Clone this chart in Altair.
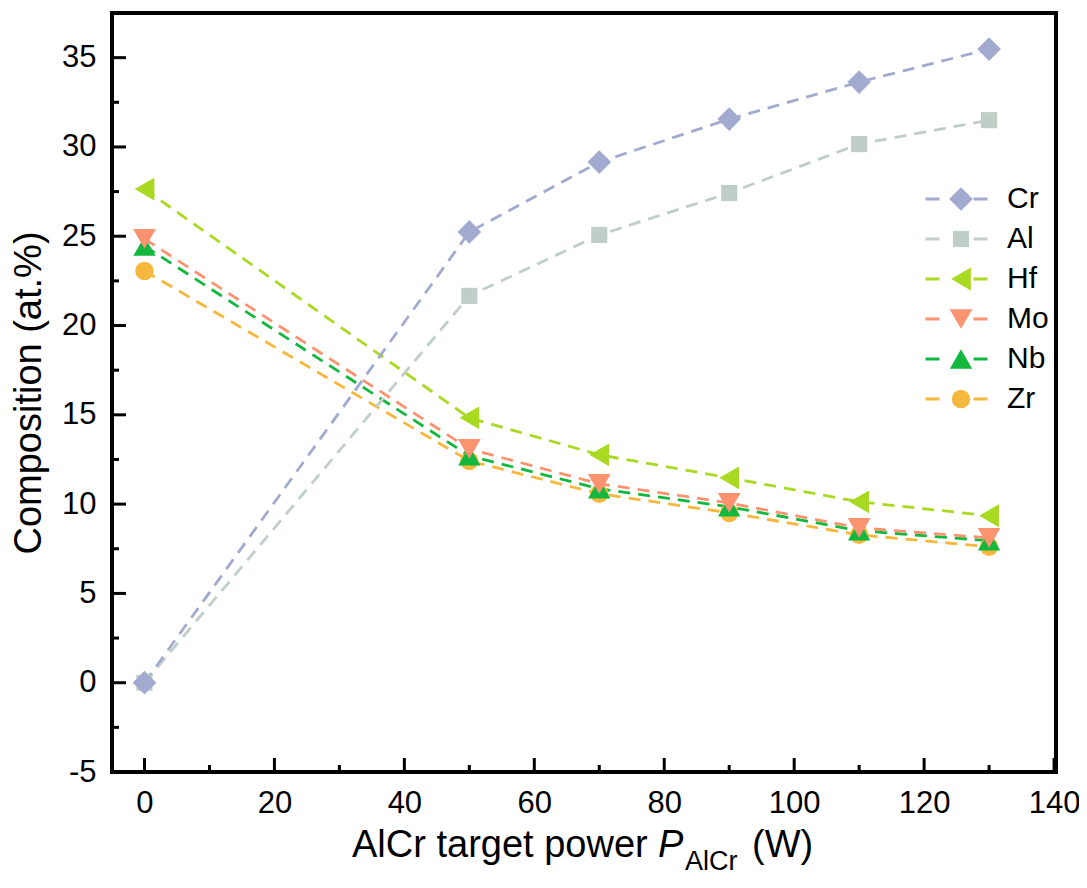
import altair as alt
import pandas as pd

power = [0, 50, 70, 90, 110, 130]
elements = ["Cr", "Al", "Hf", "Mo", "Nb", "Zr"]
cr = [0.0, 25.24, 29.15, 31.56, 33.63, 35.48]
al = [0.0, 21.66, 25.07, 27.42, 30.16, 31.50]
hf = [27.64, 14.83, 12.76, 11.47, 10.13, 9.35]
mo = [24.85, 13.09, 11.14, 10.07, 8.67, 8.11]
nb = [24.45, 12.70, 10.86, 9.85, 8.51, 7.95]
zr = [23.06, 12.42, 10.58, 9.51, 8.28, 7.61]

colors = ["#a2aacf", "#bfcfc7", "#a9d921", "#fb9270", "#12b83e", "#f6b83c"]
shapes = ["diamond", "square", "triangle-left", "triangle-down", "triangle-up", "circle"]
sizes = [560, 260, 520, 520, 500, 340]

x_major = [0, 20, 40, 60, 80, 100, 120, 140]
x_minor = [10, 30, 50, 70, 90, 110, 130]
y_major = [-5, 0, 5, 10, 15, 20, 25, 30, 35]
y_minor = [-2.5, 2.5, 7.5, 12.5, 17.5, 22.5, 27.5, 32.5]

series = {"Cr": cr, "Al": al, "Hf": hf, "Mo": mo, "Nb": nb, "Zr": zr}
markers_key = [e.lower() for e in elements]  # separate key so marker legend stays apart
rows = []
for el in reversed(elements):  # draw order: Zr bottom ... Cr top
    for p, v in zip(power, series[el]):
        rows.append({"x": p, "y": v, "el": el, "mk": el.lower()})
df = pd.DataFrame(rows)

FONT = "Liberation Sans"
W, H = 944, 759

xscale = alt.Scale(domain=[-5, 140.3], nice=False, zero=False)
yscale = alt.Scale(domain=[-5, 37.5], nice=False, zero=False)

x_axis = alt.Axis(values=x_major, domain=False, ticks=False, grid=False,
                  labelFontSize=31, labelFont=FONT, labelColor="black",
                  labelPadding=16, title=None, labelFlush=False,
                  labelExpr="'' + datum.value")
y_axis = alt.Axis(values=y_major, domain=False, ticks=False, grid=False,
                  labelFontSize=31, labelFont=FONT, labelColor="black",
                  labelPadding=16, title="Composition (at.%)",
                  labelExpr="'' + datum.value",
                  titleFontSize=38, titleFont=FONT, titleFontWeight="normal",
                  titleColor="black", titleX=-72, titleBaseline="alphabetic")

X = alt.X("x:Q", scale=xscale, axis=x_axis)
Y = alt.Y("y:Q", scale=yscale, axis=y_axis)

LX, LY = 812, 166

lines = alt.Chart(df).mark_line(strokeDash=[12, 8], strokeWidth=2.8).encode(
    x=X, y=Y,
    color=alt.Color("el:N", scale=alt.Scale(domain=elements, range=colors),
                    legend=alt.Legend(orient="none", legendX=LX, legendY=LY,
                                      symbolType="stroke", symbolSize=3844,
                                      symbolStrokeWidth=2.8, symbolDash=[14, 34],
                                      labelFontSize=30, labelFont=FONT,
                                      labelColor="black", labelOffset=18,
                                      clipHeight=40, rowPadding=0, padding=0,
                                      title=None)),
    order="x:Q",
)

pt_legend = alt.Legend(orient="none", legendX=LX + 24, legendY=LY,
                       labelFontSize=10, labelExpr="''", labelOpacity=0,
                       clipHeight=40, rowPadding=0, padding=0, title=None)

points = alt.Chart(df).mark_point(filled=True, opacity=1, strokeWidth=0).encode(
    x=X, y=Y,
    fill=alt.Fill("mk:N", scale=alt.Scale(domain=markers_key, range=colors),
                  legend=pt_legend),
    shape=alt.Shape("mk:N", scale=alt.Scale(domain=markers_key, range=shapes),
                    legend=pt_legend),
    size=alt.Size("mk:N", scale=alt.Scale(type="ordinal", domain=markers_key, range=sizes),
                  legend=pt_legend),
)

ytick_major = alt.Chart(pd.DataFrame({"y": y_major})).mark_rule(
    color="black", strokeWidth=3).encode(y=Y, x=alt.value(0), x2=alt.value(14))
ytick_minor = alt.Chart(pd.DataFrame({"y": y_minor})).mark_rule(
    color="black", strokeWidth=3).encode(y=Y, x=alt.value(0), x2=alt.value(7))
xtick_major = alt.Chart(pd.DataFrame({"x": x_major})).mark_rule(
    color="black", strokeWidth=3).encode(x=X, y=alt.value(H), y2=alt.value(H - 14))
xtick_minor = alt.Chart(pd.DataFrame({"x": x_minor})).mark_rule(
    color="black", strokeWidth=3).encode(x=X, y=alt.value(H), y2=alt.value(H - 7))

def txt(s, x, y, size, style="normal"):
    return alt.Chart(pd.DataFrame({"t": [s]})).mark_text(
        align="left", baseline="alphabetic", fontSize=size, font=FONT,
        fontStyle=style, color="black").encode(
        text="t:N", x=alt.value(x), y=alt.value(y))

title_parts = [
    txt("AlCr target power", 240, 844, 38),
    txt("P", 546, 844, 38, "italic"),
    txt("AlCr", 573, 857, 27),
    txt("(W)", 640, 844, 38),
]

chart = alt.layer(lines, points, ytick_major, ytick_minor, xtick_major, xtick_minor,
                  *title_parts).properties(
    width=W, height=H,
    autosize=alt.AutoSizeParams(type="none"),
    padding={"left": 104, "top": 5, "right": 23, "bottom": 106},
).configure(background="white").configure_view(stroke="black", strokeWidth=4)

chart.save("out.html", embed_options={"renderer": "svg", "actions": False})
